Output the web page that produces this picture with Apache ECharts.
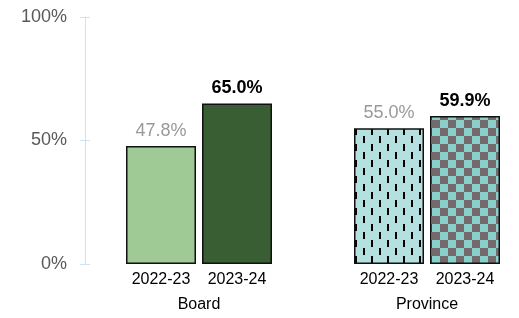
<!DOCTYPE html>
<html>
<head>
<meta charset="utf-8">
<script src="https://cdn.jsdelivr.net/npm/echarts@6/dist/echarts.min.js"></script>
<style>
  html, body { margin: 0; padding: 0; background: #fff; }
  #chart { width: 519px; height: 318px; }
</style>
</head>
<body>
<div id="chart"></div>
<script>
  // data
  const categories = ['2022-23', '2023-24', '', '2022-23', '2023-24'];
  const values = [47.8, 65.0, null, 55.0, 59.9];
  const groupLabels = ['', 'Board', '', '', 'Province', ''];
  const yMin = 0, yMax = 100, yStep = 50;

  // fills for the patterned bars
  function dashPattern() {
    const c = document.createElement('canvas');
    c.width = 16; c.height = 16;
    const g = c.getContext('2d');
    g.fillStyle = '#b4e0df';
    g.fillRect(0, 0, 16, 16);
    g.fillStyle = '#000';
    g.fillRect(3, 0, 2, 7);
    g.fillRect(11, 8, 2, 7);
    return c;
  }
  function checkPattern() {
    const c = document.createElement('canvas');
    c.width = 16; c.height = 16;
    const g = c.getContext('2d');
    g.fillStyle = '#8bcfca';
    g.fillRect(0, 0, 16, 16);
    g.fillStyle = '#736b6b';
    g.fillRect(8, 0, 8, 8);
    g.fillRect(0, 8, 8, 8);
    return c;
  }

  const fills = [
    '#9fc995',
    '#3a5e33',
    null,
    { image: dashPattern(), repeat: 'repeat' },
    { image: checkPattern(), repeat: 'repeat' }
  ];
  const latest = [false, true, false, false, true];

  const barData = values.map((v, i) => {
    if (v === null) return '-';
    return {
      value: v,
      itemStyle: { color: fills[i] },
      label: latest[i]
        ? { color: '#000', fontWeight: 'bold' }
        : { color: '#999999', fontWeight: 'normal' }
    };
  });

  const axisBlue = '#cfe2f3';

  const chart = echarts.init(document.getElementById('chart'));
  chart.setOption({
    animation: false,
    grid: { left: 123, right: 16, top: 17, bottom: 54 },
    xAxis: [
      {
        type: 'category',
        data: categories,
        axisLine: { show: false },
        axisTick: { show: false },
        axisLabel: {
          interval: 0, margin: 8, color: '#000',
          fontSize: 16, fontFamily: 'Liberation Sans, Arial, sans-serif'
        }
      },
      {
        type: 'category',
        data: groupLabels,
        position: 'bottom',
        offset: 25,
        boundaryGap: false,
        axisLine: { show: false },
        axisTick: { show: false },
        axisLabel: {
          interval: 0, margin: 8, color: '#000',
          fontSize: 16, fontFamily: 'Liberation Sans, Arial, sans-serif'
        }
      }
    ],
    yAxis: [
      {
        type: 'value',
        min: yMin, max: yMax, interval: yStep,
        offset: 38,
        axisLine: { show: true, lineStyle: { color: axisBlue, width: 1 } },
        axisTick: { show: true, length: 5, lineStyle: { color: axisBlue } },
        splitLine: { show: false },
        axisLabel: {
          margin: 18, color: '#595959', fontSize: 18,
          fontFamily: 'Liberation Sans, Arial, sans-serif',
          formatter: '{value}%'
        }
      },
      {
        type: 'value',
        min: yMin, max: yMax, interval: yStep,
        position: 'left',
        offset: 38,
        axisLine: { show: false },
        axisTick: { show: true, inside: true, length: 5, lineStyle: { color: axisBlue } },
        splitLine: { show: false },
        axisLabel: { show: false }
      }
    ],
    series: [{
      type: 'bar',
      data: barData,
      barWidth: 70,
      itemStyle: { borderColor: '#111', borderWidth: 1.5 },
      label: {
        show: true,
        position: 'top',
        distance: 6,
        fontSize: 18,
        fontFamily: 'Liberation Sans, Arial, sans-serif',
        formatter: p => p.value.toFixed(1) + '%'
      }
    }]
  });
</script>
</body>
</html>
